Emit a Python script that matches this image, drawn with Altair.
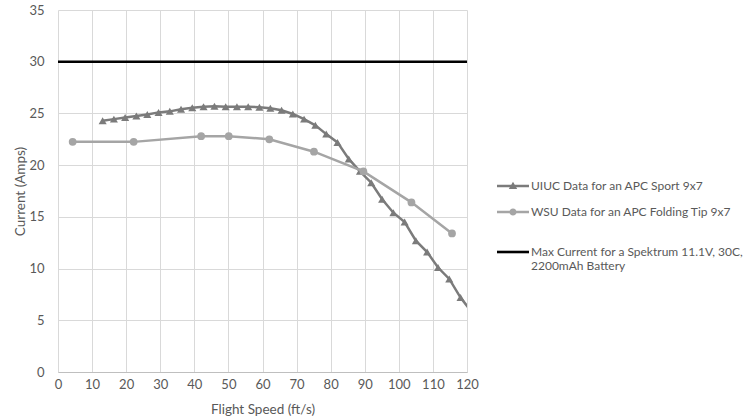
import altair as alt
import pandas as pd

# ---------------- data ----------------
uiuc_speed = [13.1, 16.4, 19.7, 23.0, 26.2, 29.5, 32.8, 36.1, 39.4, 42.7, 45.9, 49.2,
              52.5, 55.8, 59.1, 62.3, 65.6, 68.9, 72.2, 75.5, 78.7, 82.0, 85.3, 88.6,
              91.9, 95.1, 98.4, 101.7, 105.0, 108.3, 111.5, 114.8, 118.1, 121.4]
uiuc_current = [24.3, 24.45, 24.6, 24.75, 24.9, 25.1, 25.2, 25.4, 25.55, 25.65, 25.7, 25.65,
                25.65, 25.65, 25.6, 25.5, 25.3, 24.95, 24.45, 23.85, 23.0, 22.2, 20.6, 19.4,
                18.3, 16.7, 15.4, 14.5, 12.7, 11.6, 10.1, 9.0, 7.2, 5.8]

wsu_speed = [4.3, 22.2, 42.0, 50.1, 62.0, 75.1, 89.6, 103.7, 115.6]
wsu_current = [22.25, 22.25, 22.8, 22.8, 22.5, 21.3, 19.4, 16.4, 13.4]

max_speed = [0, 120]
max_current = [30, 30]

x_ticks = list(range(0, 121, 10))
y_ticks = list(range(0, 36, 5))

S_UIUC = "UIUC Data for an APC Sport 9x7"
S_WSU = "WSU Data for an APC Folding Tip 9x7"
S_MAX = "|Max Current for a Spektrum 11.1V, 30C,|2200mAh Battery"
series = [S_UIUC, S_WSU, S_MAX]
colors = ["#7b7b7b", "#a5a5a5", "#000000"]

# legend symbols: line + marker (custom paths)
sym_uiuc = ("M-1.6,-0.12L1.6,-0.12L1.6,0.12L-1.6,0.12Z "
            "M0,-0.42L0.42,0.3L-0.42,0.3Z")
sym_wsu = ("M-1.6,-0.12L1.6,-0.12L1.6,0.12L-1.6,0.12Z "
           "M-0.36,0A0.36,0.36 0 1,1 0.36,0A0.36,0.36 0 1,1 -0.36,0Z")
sym_max = "M-1.6,1.27L1.6,1.27L1.6,1.53L-1.6,1.53Z"
symbols = [sym_uiuc, sym_wsu, sym_max]

uiuc_df = pd.DataFrame({"speed": uiuc_speed, "current": uiuc_current})
wsu_df = pd.DataFrame({"speed": wsu_speed, "current": wsu_current})
max_df = pd.DataFrame({"speed": max_speed, "current": max_current})
legend_df = pd.DataFrame({"series": series})

FONT = "Lato"
GREY_TXT = "#595959"

x_enc = alt.X("speed:Q",
              scale=alt.Scale(domain=[0, 120], nice=False, zero=False),
              axis=alt.Axis(values=x_ticks, title="Flight Speed (ft/s)", grid=True,
                            gridColor="#d9d9d9", gridWidth=1, domainColor="#bfbfbf",
                            domainWidth=1, ticks=False, labelPadding=6,
                            labelFlush=False, labelOverlap=False,
                            labelColor=GREY_TXT, labelFontSize=13, labelFont=FONT,
                            titleFont=FONT, titleFontSize=13.5, titleColor=GREY_TXT,
                            titleFontWeight="normal", titlePadding=11))
y_enc = alt.Y("current:Q",
              scale=alt.Scale(domain=[0, 35], nice=False),
              axis=alt.Axis(values=y_ticks, title="Current (Amps)", grid=True,
                            gridColor="#d9d9d9", gridWidth=1, domain=False,
                            ticks=False, labelPadding=14, labelColor=GREY_TXT,
                            labelFontSize=13, labelFont=FONT, labelFlush=False,
                            titleFont=FONT, titleFontSize=13.5, titleColor=GREY_TXT,
                            titleFontWeight="normal", titlePadding=1))

uiuc_line = alt.Chart(uiuc_df).mark_line(color=colors[0], strokeWidth=2.5, clip=True).encode(x=x_enc, y=y_enc)
uiuc_pts = alt.Chart(uiuc_df).mark_point(shape="triangle-up", filled=True, size=65, opacity=1,
                                         color=colors[0], clip=True).encode(x=x_enc, y=y_enc)
wsu_line = alt.Chart(wsu_df).mark_line(color=colors[1], strokeWidth=2.5, clip=True).encode(x=x_enc, y=y_enc)
wsu_pts = alt.Chart(wsu_df).mark_point(shape="circle", filled=True, size=60, opacity=1,
                                       color=colors[1], clip=True).encode(x=x_enc, y=y_enc)
max_line = alt.Chart(max_df).mark_line(color=colors[2], strokeWidth=2.5, clip=True).encode(x=x_enc, y=y_enc)

legend = alt.Legend(title=None, orient="none", legendX=445, legendY=166,
                    labelExpr="split(datum.label, '|')",
                    labelFont=FONT, labelFontSize=12, labelColor=GREY_TXT,
                    labelOffset=8, labelLimit=300, rowPadding=10, padding=0,
                    symbolSize=400, symbolOpacity=1, symbolStrokeWidth=0)

legend_layer = alt.Chart(legend_df).mark_point(filled=True, opacity=1, size=400).transform_filter(
    "false"
).encode(
    color=alt.Color("series:N", scale=alt.Scale(domain=series, range=colors), legend=legend),
    shape=alt.Shape("series:N", scale=alt.Scale(domain=series, range=symbols), legend=legend),
)

chart = alt.layer(uiuc_line, uiuc_pts, wsu_line, wsu_pts, max_line, legend_layer).properties(
    width=409, height=362,
    autosize="none",
    padding={"left": 58, "top": 10, "right": 281, "bottom": 47},
    background="white",
).configure_view(stroke=None)

chart.save("out.html", embed_options={"renderer": "svg", "actions": False})
